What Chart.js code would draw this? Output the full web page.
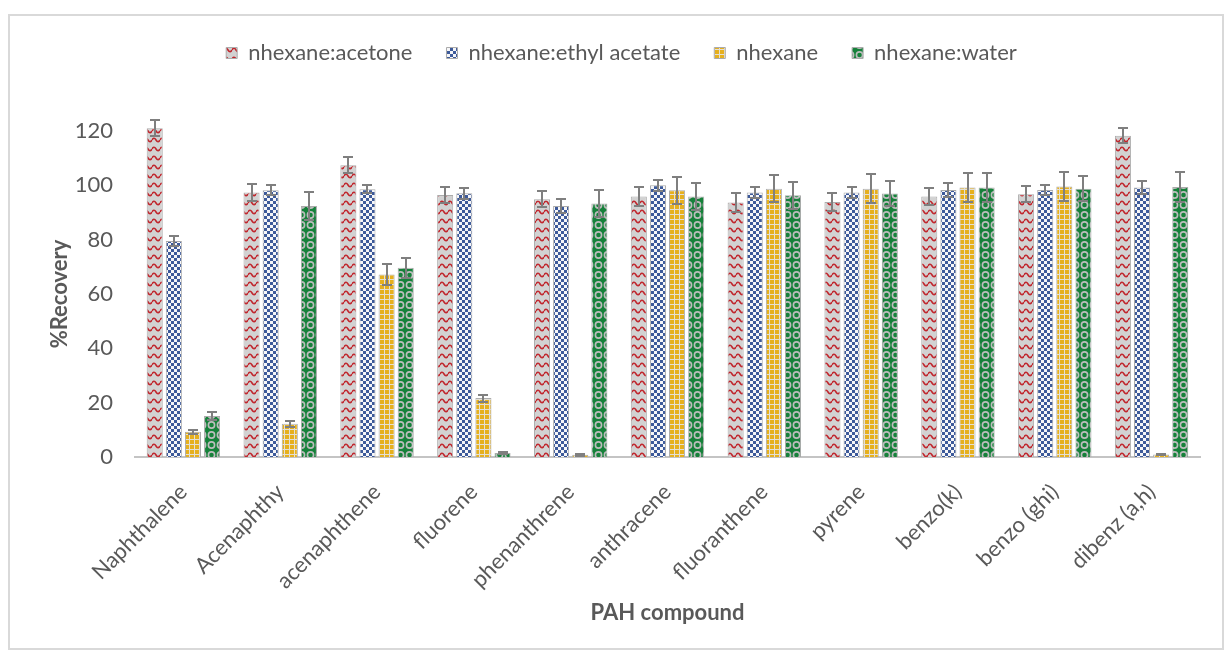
<!DOCTYPE html>
<html>
<head>
<meta charset="utf-8">
<script src="https://cdn.jsdelivr.net/npm/chart.js@4.4.1/dist/chart.umd.min.js"></script>
<style>
  html, body { margin: 0; padding: 0; background: #ffffff; }
  #wrap { position: relative; width: 1226px; height: 652px; overflow: hidden; }
  #frame { position: absolute; left: 8px; top: 14px; width: 1216px; height: 636px; box-sizing: border-box; border: 2px solid #d9d9d9; }
  #c { position: absolute; left: 0; top: 0; }
</style>
</head>
<body>
<div id="wrap">
  <div id="frame"></div>
  <canvas id="c" width="1226" height="652"></canvas>
</div>
<script>
// PAH compounds on the x axis
const compounds = ['Naphthalene', 'Acenaphthy', 'acenaphthene', 'fluorene', 'phenanthrene',
  'anthracene', 'fluoranthene', 'pyrene', 'benzo(k)', 'benzo (ghi)', 'dibenz (a,h)'];

// % recovery per extraction solvent, with standard deviation
const acetone      = [121.0, 97.4, 107.4, 96.5, 94.9, 95.9, 93.7, 93.9, 95.9, 96.7, 118.3];
const acetoneErr   = [3.0, 3.0, 3.0, 3.0, 3.0, 3.5, 3.5, 3.3, 3.3, 3.0, 2.8];
const ethylAcetate = [79.5, 98.2, 98.6, 97.1, 92.4, 100.0, 97.4, 97.4, 98.3, 98.3, 99.2];
const ethylErr     = [2.0, 1.8, 1.5, 2.0, 2.5, 2.0, 2.0, 2.0, 2.4, 2.0, 2.5];
const hexane       = [9.3, 12.2, 67.2, 21.7, 0.8, 98.2, 98.8, 98.8, 99.2, 99.6, 0.9];
const hexaneErr    = [0.8, 1.0, 3.7, 1.3, 0.3, 5.0, 5.0, 5.3, 5.3, 5.4, 0.3];
const water        = [15.1, 92.4, 69.7, 1.5, 93.3, 95.9, 96.4, 97.0, 99.2, 98.8, 99.4];
const waterErr     = [1.3, 5.0, 3.7, 0.4, 5.0, 5.0, 5.0, 4.5, 5.3, 4.7, 5.6];

// y axis ticks
const yTicks = [0, 20, 40, 60, 80, 100, 120];

const seriesNames = ['nhexane:acetone', 'nhexane:ethyl acetate', 'nhexane', 'nhexane:water'];

// ---- fill patterns -------------------------------------------------------
function makePattern(w, h, paint) {
  const c = document.createElement('canvas');
  c.width = w; c.height = h;
  const g = c.getContext('2d');
  paint(g, w, h);
  return g.createPattern(c, 'repeat');
}

const wavePattern = makePattern(8, 9, (g, w, h) => {
  g.fillStyle = '#d2d2d2'; g.fillRect(0, 0, w, h);
  g.strokeStyle = '#c0262d'; g.lineWidth = 1.6;
  g.beginPath();
  g.moveTo(0, 5); g.quadraticCurveTo(2, 1.5, 4, 5); g.quadraticCurveTo(6, 8.5, 8, 5);
  g.stroke();
});

const checkPattern = makePattern(6, 6, (g, w, h) => {
  g.fillStyle = '#f6f6f8'; g.fillRect(0, 0, w, h);
  g.fillStyle = '#3d5a9a';
  g.fillRect(0, 0, 3, 3); g.fillRect(3, 3, 3, 3);
});

const gridPattern = makePattern(5, 5, (g, w, h) => {
  g.fillStyle = '#e6b01e'; g.fillRect(0, 0, w, h);
  g.fillStyle = '#e4e0d4';
  g.fillRect(4, 0, 1, h); g.fillRect(0, 4, w, 1);
});

const ringPattern = makePattern(9, 10, (g, w, h) => {
  g.fillStyle = '#16813a'; g.fillRect(0, 0, w, h);
  g.strokeStyle = '#bdbdbd'; g.lineWidth = 1.6;
  g.beginPath(); g.arc(4.5, 5, 3.1, 0, Math.PI * 2); g.stroke();
});

const fills = [wavePattern, checkPattern, gridPattern, ringPattern];
const values = [acetone, ethylAcetate, hexane, water];
const errors = [acetoneErr, ethylErr, hexaneErr, waterErr];

const textColor = '#595959';
const family = 'Lato, "Open Sans", sans-serif';
Chart.defaults.font.family = family;

// ---- error bars drawn through the y scale ---------------------------------
const errorBars = {
  id: 'errorBars',
  afterDatasetsDraw(chart) {
    const ctx = chart.ctx;
    const yScale = chart.scales.y;
    ctx.save();
    ctx.strokeStyle = '#7f7f7f';
    ctx.lineWidth = 2;
    chart.data.datasets.forEach((ds, di) => {
      const meta = chart.getDatasetMeta(di);
      if (meta.hidden) return;
      meta.data.forEach((bar, i) => {
        const v = ds.data[i], e = ds.errors[i];
        const yHi = Math.round(yScale.getPixelForValue(v + e));
        const yLo = Math.round(yScale.getPixelForValue(Math.max(0, v - e)));
        const x = Math.round(bar.x);
        ctx.beginPath();
        ctx.moveTo(x, yHi); ctx.lineTo(x, yLo);
        ctx.moveTo(x - 5, yHi); ctx.lineTo(x + 5, yHi);
        ctx.moveTo(x - 5, yLo); ctx.lineTo(x + 5, yLo);
        ctx.stroke();
      });
    });
    ctx.restore();
  }
};

// ---- y axis title, centred on the 0..120 tick range ----------------------
const yAxisTitle = {
  id: 'yAxisTitle',
  afterDraw(chart) {
    const ctx = chart.ctx;
    const yScale = chart.scales.y;
    const yMid = (yScale.getPixelForValue(yTicks[0]) + yScale.getPixelForValue(yTicks[yTicks.length - 1])) / 2;
    ctx.save();
    ctx.translate(60, yMid);
    ctx.rotate(-Math.PI / 2);
    ctx.fillStyle = textColor;
    ctx.font = 'bold 22px ' + family;
    ctx.textAlign = 'center';
    ctx.textBaseline = 'middle';
    ctx.fillText('%Recovery', 0, 0);
    ctx.restore();
  }
};

new Chart(document.getElementById('c'), {
  type: 'bar',
  data: {
    labels: compounds,
    datasets: seriesNames.map((name, k) => ({
      label: name,
      data: values[k],
      errors: errors[k],
      backgroundColor: fills[k],
      borderColor: '#ababab',
      borderWidth: 1,
      barPercentage: 0.84,
      categoryPercentage: 0.79
    }))
  },
  options: {
    responsive: false,
    animation: false,
    devicePixelRatio: 1,
    layout: { padding: { left: 43, right: 26, top: 8, bottom: 20 } },
    plugins: {
      legend: {
        position: 'top',
        labels: {
          boxWidth: 11, boxHeight: 11, padding: 34,
          color: textColor,
          font: { size: 22, family: family }
        }
      },
      tooltip: { enabled: false }
    },
    scales: {
      x: {
        grid: { display: false },
        border: { display: true, color: '#c4c4c4', width: 2 },
        ticks: {
          color: textColor, font: { size: 22 },
          minRotation: 45, maxRotation: 45, autoSkip: false, padding: 14
        },
        title: {
          display: true, text: 'PAH compound', color: textColor,
          font: { size: 22, weight: 'bold' }, padding: { top: 6, bottom: 6 }
        },
        afterFit(scale) { scale.height = 175; }
      },
      y: {
        min: 0,
        max: 141,
        grid: { display: false, drawTicks: false },
        border: { display: false },
        afterBuildTicks(scale) { scale.ticks = yTicks.map(v => ({ value: v })); },
        ticks: { color: textColor, font: { size: 22 }, padding: 22 },
        title: { display: false },
        afterFit(scale) { scale.width = 92; }
      }
    }
  },
  plugins: [errorBars, yAxisTitle]
});
</script>
</body>
</html>
